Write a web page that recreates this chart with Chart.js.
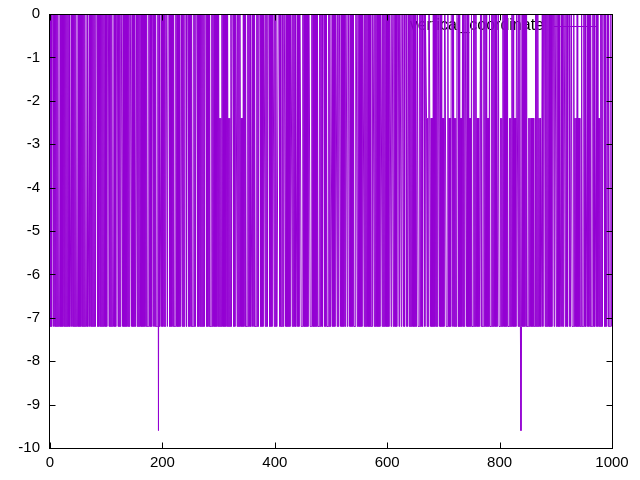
<!DOCTYPE html>
<html>
<head>
<meta charset="utf-8">
<script src="https://cdn.jsdelivr.net/npm/chart.js@4/dist/chart.umd.min.js"></script>
<style>
html,body{margin:0;padding:0;background:#fff;}
#wrap{width:640px;height:480px;}
</style>
</head>
<body>
<div id="wrap"><canvas id="c" width="640" height="480"></canvas></div>
<script>
const seriesName = "vertical_coordinate";
const xTickValues = [0, 200, 400, 600, 800, 1000];
const yTickValues = [0, -1, -2, -3, -4, -5, -6, -7, -8, -9, -10];
const verticalCoordinate = [
0,-7.2,0,-7.2,0,0,0,-7.2,0,-7.2,0,-7.2,0,-7.2,0,-7.2,-7.2,-7.2,0,-7.2,
0,-7.2,0,-7.2,0,-7.2,0,-7.2,0,-7.2,0,-7.2,0,-7.2,0,-7.2,-7.2,-7.2,0,-7.2,
0,-7.2,0,-7.2,0,-7.2,0,-7.2,-7.2,-7.2,0,-7.2,0,-7.2,0,-7.2,0,-7.2,0,-7.2,
0,-7.2,0,-7.2,-7.2,-7.2,0,-7.2,-7.2,-7.2,0,-7.2,0,-7.2,0,-7.2,0,-7.2,0,-7.2,
0,-7.2,0,0,0,-7.2,0,-7.2,0,-7.2,0,-7.2,0,-7.2,0,-7.2,0,-7.2,0,-7.2,
0,-7.2,0,0,0,-7.2,0,-7.2,0,-7.2,0,-7.2,-7.2,-7.2,0,-7.2,0,-7.2,0,0,
0,-7.2,0,-7.2,0,-7.2,0,0,0,-7.2,0,-7.2,0,-7.2,0,-7.2,0,-7.2,0,-7.2,
0,-7.2,0,0,0,-7.2,0,-7.2,0,-7.2,0,-7.2,-7.2,-7.2,0,-7.2,0,-7.2,0,-7.2,
0,-7.2,0,-7.2,0,-7.2,0,-7.2,0,-7.2,0,-7.2,0,-7.2,-7.2,-7.2,0,-7.2,0,-7.2,
0,-7.2,0,0,0,-7.2,0,-7.2,0,-7.2,-7.2,-7.2,0,-9.6,0,-7.2,-7.2,-7.2,0,-7.2,
0,-7.2,0,-7.2,0,-7.2,0,0,0,-7.2,0,0,0,-7.2,0,-7.2,0,-7.2,0,-7.2,
0,-7.2,-7.2,-7.2,0,-7.2,0,-7.2,0,-7.2,0,-7.2,-7.2,-7.2,0,-7.2,0,-7.2,0,-7.2,
0,0,0,-7.2,0,0,0,-7.2,0,-7.2,0,-7.2,0,-7.2,-7.2,-7.2,0,-7.2,0,-7.2,
0,0,0,-7.2,0,-7.2,0,-7.2,0,-7.2,0,-7.2,0,-7.2,0,-7.2,0,0,0,-7.2,
0,-7.2,0,-7.2,0,-7.2,-7.2,-7.2,0,-7.2,0,-7.2,0,-7.2,0,-7.2,0,-7.2,0,-7.2,
0,-7.2,-2.4,-7.2,-2.4,-7.2,0,-7.2,0,-7.2,0,-7.2,0,-7.2,0,-7.2,0,-7.2,-2.4,-7.2,
-2.4,-7.2,0,-7.2,0,0,0,-7.2,0,-7.2,0,0,0,-7.2,0,-7.2,0,-7.2,0,-7.2,
-2.4,-7.2,-2.4,-7.2,0,-7.2,0,-7.2,0,-7.2,-7.2,-7.2,0,-7.2,0,-7.2,0,-7.2,-7.2,-7.2,
0,-7.2,0,-7.2,0,-7.2,-7.2,-7.2,0,-7.2,0,-7.2,0,0,0,-7.2,0,-7.2,0,-7.2,
0,0,0,-7.2,0,-7.2,0,-7.2,0,0,0,-7.2,0,-7.2,0,-7.2,0,0,0,-7.2,
0,-7.2,0,-7.2,-7.2,-7.2,0,0,0,-7.2,0,-7.2,-7.2,-7.2,0,-7.2,0,0,0,-7.2,
0,-7.2,0,-7.2,0,-7.2,0,-7.2,0,0,0,-7.2,0,-7.2,0,-7.2,0,-7.2,-7.2,-7.2,
0,-7.2,0,-7.2,0,0,0,-7.2,-7.2,-7.2,0,-7.2,0,-7.2,0,-7.2,0,-7.2,0,-7.2,
0,0,0,-7.2,-7.2,-7.2,0,-7.2,0,-7.2,0,-7.2,0,-7.2,0,-7.2,0,-7.2,-7.2,-7.2,
0,-7.2,0,-7.2,0,-7.2,0,0,0,-7.2,0,-7.2,0,-7.2,-7.2,-7.2,0,-7.2,0,-7.2,
-7.2,-7.2,0,-7.2,0,-7.2,0,-7.2,0,0,0,-7.2,0,-7.2,0,0,0,-7.2,0,-7.2,
0,-7.2,0,-7.2,0,-7.2,0,0,0,-7.2,0,0,0,-7.2,0,-7.2,0,-7.2,0,-7.2,
0,-7.2,-7.2,-7.2,0,0,0,-7.2,0,-7.2,0,-7.2,0,-7.2,0,-7.2,0,0,0,-7.2,
0,-7.2,0,-7.2,0,-7.2,0,-7.2,0,-7.2,0,-7.2,-7.2,-7.2,0,0,0,-7.2,0,-7.2,
0,-7.2,0,-7.2,0,-7.2,0,-7.2,0,0,0,-7.2,0,-7.2,0,-7.2,0,-7.2,0,-7.2,
0,-7.2,0,-7.2,0,0,0,-7.2,0,0,0,-7.2,0,-7.2,0,-7.2,0,-7.2,0,0,
0,-7.2,0,0,0,-7.2,0,0,0,-7.2,0,-7.2,0,0,0,-7.2,-7.2,-7.2,0,-7.2,
0,-7.2,0,-7.2,0,-7.2,0,-7.2,0,-7.2,0,-7.2,-7.2,-7.2,0,-7.2,-7.2,-7.2,0,-7.2,
0,-7.2,0,-7.2,0,0,0,-7.2,0,0,-2.4,-7.2,-2.4,-7.2,0,0,0,-7.2,-2.4,-7.2,
-2.4,-7.2,0,-7.2,0,-7.2,0,-7.2,0,-7.2,0,0,0,-7.2,0,-7.2,0,-7.2,-2.4,-7.2,
-2.4,-7.2,0,0,0,-7.2,-7.2,-7.2,0,-7.2,-2.4,-7.2,-2.4,-7.2,0,0,0,-7.2,0,-7.2,
-2.4,-7.2,-2.4,-7.2,0,0,0,-7.2,0,-7.2,-2.4,-7.2,-2.4,-7.2,0,-7.2,0,-7.2,0,0,
0,-7.2,0,-7.2,0,-7.2,-2.4,-7.2,-2.4,-7.2,0,-7.2,-7.2,-7.2,0,-7.2,0,-7.2,0,-7.2,
-2.4,-7.2,-2.4,-7.2,-7.2,-7.2,0,-7.2,0,-7.2,-7.2,-7.2,0,-7.2,0,-7.2,0,-7.2,-2.4,-7.2,
-2.4,-7.2,0,-7.2,-7.2,-7.2,0,-7.2,0,-7.2,0,-7.2,0,-7.2,0,-7.2,-7.2,-7.2,0,-7.2,
-7.2,-7.2,-2.4,-7.2,-2.4,-7.2,0,-7.2,0,-7.2,0,-7.2,0,-7.2,0,-7.2,-7.2,-7.2,-2.4,-7.2,
-2.4,-7.2,0,-7.2,0,-7.2,-2.4,-7.2,-2.4,-7.2,0,0,0,-7.2,0,-7.2,0,-7.2,-9.6,-7.2,
0,-7.2,0,-7.2,0,-7.2,0,-7.2,0,-7.2,-7.2,-7.2,-2.4,-7.2,-2.4,-7.2,-2.4,-7.2,-2.4,-7.2,
-2.4,-7.2,-7.2,-7.2,0,-7.2,0,-7.2,0,-7.2,-2.4,-7.2,-2.4,-7.2,-7.2,-7.2,0,-7.2,0,0,
0,-7.2,0,-7.2,0,-7.2,0,-7.2,0,-7.2,0,-7.2,0,-7.2,0,0,0,-7.2,0,0,
0,-7.2,0,-7.2,0,-7.2,0,-7.2,-7.2,-7.2,0,-7.2,0,-7.2,0,0,0,-7.2,0,-7.2,
0,-7.2,0,0,0,-7.2,-7.2,-7.2,0,-7.2,-7.2,-7.2,0,-7.2,-2.4,-7.2,-2.4,-7.2,0,-7.2,
-2.4,-7.2,-2.4,-7.2,-7.2,-7.2,0,-7.2,-7.2,-7.2,0,-7.2,0,-7.2,-7.2,-7.2,0,-7.2,0,-7.2,
0,-7.2,0,-7.2,-7.2,-7.2,0,-7.2,0,-7.2,-7.2,-7.2,0,-7.2,0,-7.2,-2.4,-7.2,-2.4,-7.2,
0,-7.2,0,-7.2,0,0,0,-7.2,0,-7.2,-7.2,-7.2,0,-7.2,0,-7.2,-7.2,-7.2,0,-7.2
];

const lineColor = '#9400D3';
const FONT = '"Liberation Sans", Arial, sans-serif';

const points = verticalCoordinate.map((v, i) => ({ x: i, y: v }));

const gnuplotFrame = {
  id: 'gnuplotFrame',
  beforeDatasetsDraw(chart) {
    const ctx = chart.ctx;
    ctx.save();
    ctx.font = '16px ' + FONT;
    ctx.fillStyle = '#000';
    ctx.textAlign = 'right';
    ctx.textBaseline = 'middle';
    ctx.fillText(seriesName, 544, 26);
    ctx.restore();
  },
  afterDatasetsDraw(chart) {
    const ctx = chart.ctx;
    const a = chart.chartArea;
    const xs = chart.scales.x, ys = chart.scales.y;
    const L = Math.round(a.left) - 0.5, R = Math.round(a.right) + 0.5;
    const T = Math.round(a.top) + 0.5, B = Math.round(a.bottom) + 0.5;
    const tl = 6;
    ctx.save();
    ctx.strokeStyle = '#000';
    ctx.lineWidth = 1;
    ctx.beginPath();
    yTickValues.forEach(v => {
      const p = Math.round(ys.getPixelForValue(v)) + 0.5;
      ctx.moveTo(L, p); ctx.lineTo(L + tl, p);
      ctx.moveTo(R, p); ctx.lineTo(R - tl, p);
    });
    xTickValues.forEach(v => {
      const p = Math.round(xs.getPixelForValue(v)) + 0.5;
      ctx.moveTo(p, B); ctx.lineTo(p, B - tl);
      ctx.moveTo(p, T); ctx.lineTo(p, T + tl);
    });
    ctx.stroke();
    ctx.strokeRect(L, T, R - L, B - T);
    ctx.strokeStyle = lineColor;
    ctx.beginPath();
    ctx.moveTo(554, 26.5); ctx.lineTo(596, 26.5);
    ctx.stroke();
    ctx.restore();
  }
};

new Chart(document.getElementById('c'), {
  type: 'line',
  data: {
    datasets: [{
      label: seriesName,
      data: points,
      borderColor: lineColor,
      backgroundColor: lineColor,
      borderWidth: 1,
      pointRadius: 0,
      tension: 0,
      fill: false
    }]
  },
  options: {
    responsive: false,
    animation: false,
    devicePixelRatio: 1,
    layout: { padding: { top: 14, right: 28, left: 0, bottom: 0 } },
    plugins: { legend: { display: false }, tooltip: { enabled: false } },
    scales: {
      x: {
        type: 'linear', min: 0, max: 1000,
        afterBuildTicks: s => { s.ticks = xTickValues.map(v => ({ value: v })); },
        afterFit: s => { s.height = 32; s.paddingLeft = 0; s.paddingRight = 0; },
        grid: { display: false, drawTicks: false },
        border: { display: false },
        ticks: { color: '#000', padding: 6, maxRotation: 0, autoSkip: false,
                 callback: v => String(v), font: { family: FONT, size: 15 } }
      },
      y: {
        type: 'linear', min: -10, max: 0,
        afterBuildTicks: s => { s.ticks = yTickValues.map(v => ({ value: v })); },
        afterFit: s => { s.width = 50; s.paddingTop = 0; s.paddingBottom = 0; },
        grid: { display: false, drawTicks: false },
        border: { display: false },
        ticks: { color: '#000', padding: 10, autoSkip: false,
                 callback: v => String(v), font: { family: FONT, size: 15 } }
      }
    }
  },
  plugins: [gnuplotFrame]
});
</script>
</body>
</html>
